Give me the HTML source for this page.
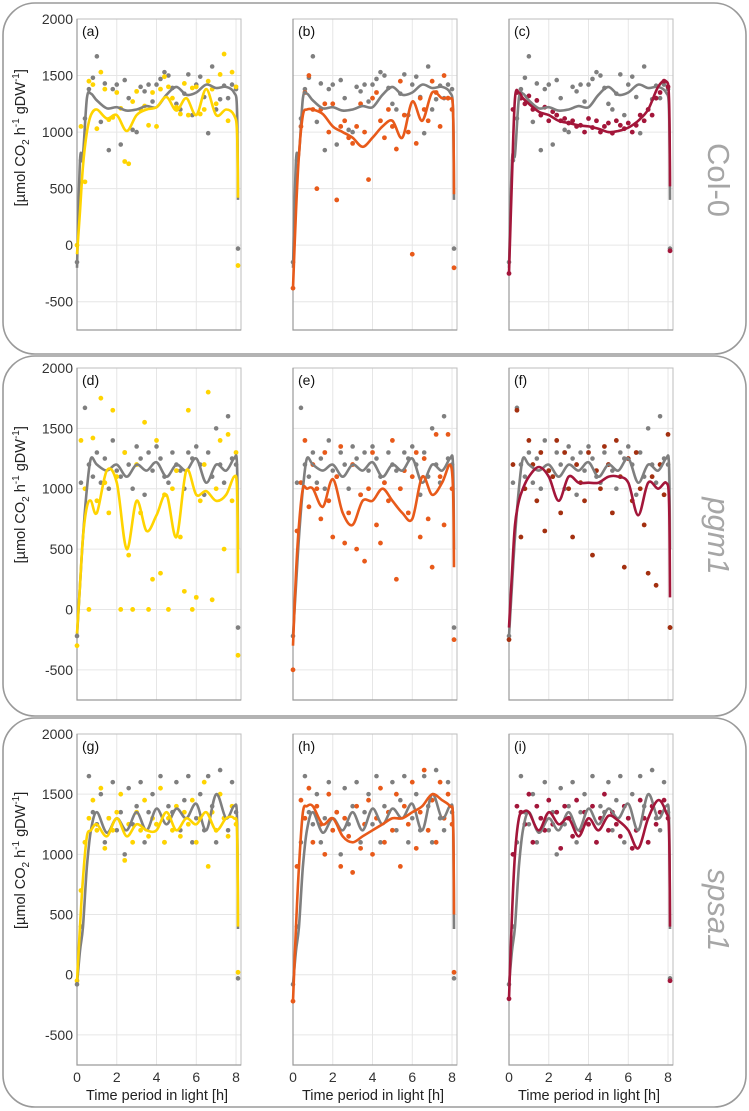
<!DOCTYPE html>
<html><head><meta charset="utf-8">
<style>
html,body{margin:0;padding:0;background:#fff;}
svg{display:block;font-family:"Liberation Sans",Arial,sans-serif;}
</style></head>
<body>
<svg id="fig" width="749" height="1111" viewBox="0 0 749 1111" xmlns="http://www.w3.org/2000/svg">
<rect x="3" y="3" width="743" height="351" rx="32" fill="none" stroke="#9a9a9a" stroke-width="1.6"/>
<rect x="3" y="356" width="743" height="360" rx="32" fill="none" stroke="#9a9a9a" stroke-width="1.6"/>
<rect x="3" y="718" width="743" height="389" rx="32" fill="none" stroke="#9a9a9a" stroke-width="1.6"/>
<text x="0" y="0" transform="translate(708,180) rotate(90)" text-anchor="middle" font-size="31" fill="#a6a6a6">Col-0</text>
<text x="0" y="0" transform="translate(708,536) rotate(90)" text-anchor="middle" font-size="31" font-style="italic" fill="#a6a6a6">pgm1</text>
<text x="0" y="0" transform="translate(708,910) rotate(90)" text-anchor="middle" font-size="31" font-style="italic" fill="#a6a6a6">spsa1</text>
<g id="plots"></g>
</svg>
<script>
// shared time grid for scatter points (h)
const ptTimes = [0,0.2,0.4,0.6,0.8,1.0,1.2,1.4,1.6,1.8,2.0,2.2,2.4,2.6,2.8,3.0,3.2,3.4,3.6,3.8,4.0,4.2,4.4,4.6,4.8,5.0,5.2,5.4,5.6,5.8,6.0,6.2,6.4,6.6,6.8,7.0,7.2,7.4,7.6,7.8,8.0,8.1];
const lineTimes = [0,0.15,0.3,0.5,0.7,1,1.5,2,2.5,3,3.5,4,4.5,5,5.5,6,6.5,7,7.5,7.9,8.05,8.1];

// row 1 (Col-0)
const grayPts1 = [-150,750,1120,1380,1480,1670,1090,1430,840,1380,1420,890,1460,1300,1020,1000,1400,1360,1420,1270,1420,1470,1530,1500,1390,1250,1200,1340,1510,1150,1420,1490,1310,990,1580,1200,1290,1410,1300,1420,1380,-30];
const grayLine1 = [-200,750,800,1300,1340,1280,1210,1220,1190,1200,1230,1220,1330,1400,1330,1350,1420,1390,1400,1350,1200,400];
const ptsA = [0,1050,560,1450,1420,1030,1530,1380,1110,1130,1350,1210,740,720,1270,1360,1200,1230,1060,1350,1050,1380,1490,1400,1300,1220,1160,1430,1150,1390,1400,1160,1200,1450,1380,1250,1510,1690,1100,1530,1400,-180];
const lineA = [-80,300,700,1000,1150,1200,1120,1150,1010,1150,1200,1220,1310,1190,1300,1150,1380,1150,1200,1150,1000,420];
const ptsB = [-380,700,1050,1350,1500,1200,500,1200,1250,1000,1250,400,1050,1100,950,900,1050,1250,1000,580,1300,1350,1100,950,1200,1050,850,1450,1150,1000,-80,900,1300,1200,1100,1450,1350,1050,1500,1300,1200,-200];
const lineB = [-380,300,800,1150,1200,1200,1160,1050,1000,950,870,950,1050,1100,950,1270,1100,1350,1300,1300,1200,450];
const ptsC = [-250,1200,1350,1300,1250,1320,1200,1280,1150,1220,1100,1180,1150,1100,1120,1080,1100,1050,1060,1000,1120,1040,1100,1000,1050,1080,990,1100,1060,1030,1080,1000,1060,1150,1100,1200,1150,1300,1350,1450,1400,-50];
const lineC = [-250,600,1300,1350,1300,1250,1180,1150,1100,1080,1060,1050,1030,1000,1010,1040,1100,1200,1400,1450,1300,520];

// row 2 (pgm1)
const grayPts2 = [-220,1050,1670,1200,1100,1300,1050,1250,1000,1400,1150,1100,1300,1200,1000,1350,1250,950,1300,1150,1350,1250,1100,1050,1300,1200,1150,1000,1300,1250,1350,1200,950,1300,1100,1500,1200,1050,1600,1250,1200,-150];
const grayLine2 = [-220,200,600,1000,1250,1200,1150,1200,1100,1200,1150,1220,1100,1200,1150,1250,1050,1200,1150,1250,1200,500];
const ptsD = [-300,1400,1000,0,1420,900,1750,1050,800,1650,1100,0,1300,450,0,1200,800,1550,0,250,1400,300,950,0,1000,1150,600,150,1650,0,100,900,1200,1800,80,1000,1400,500,1450,900,1300,-380];
const lineD = [-200,200,600,850,900,800,1150,1050,500,900,650,780,950,600,1150,950,980,900,950,1100,1000,300];
const ptsE = [-500,650,1050,1400,850,1200,1000,750,1300,900,600,1100,1350,550,800,1200,500,950,400,1000,1300,700,550,1050,900,1400,250,1000,1150,800,1100,1300,600,1250,750,350,1450,1100,700,1450,1000,-250];
const lineE = [-300,300,700,1000,1000,1000,850,1080,800,700,900,900,1000,900,800,750,1100,950,1050,1200,1000,350];
const ptsF = [-250,1200,1650,600,1000,1400,1200,900,1300,650,1150,1100,1400,800,1300,1000,600,1200,1050,900,1300,450,1150,1000,1350,1200,800,1400,1100,350,1250,900,1300,1000,700,300,1100,200,1200,950,1450,-150];
const lineF = [-150,300,700,900,1000,1100,1180,1100,900,1100,1050,1050,1050,1100,1100,1050,780,1050,1000,1050,900,100];

// row 3 (spsa1)
const grayPts3 = [-80,400,1100,1650,1350,1250,1500,1100,1300,1600,1200,1350,1000,1550,1250,1400,1600,1100,1350,1500,1250,1650,1100,1400,1350,1600,1200,1450,1650,1100,1300,1500,1200,1650,1400,1100,1700,1300,1200,1600,1350,-30];
const grayLine3 = [-80,200,400,900,1200,1350,1180,1300,1200,1350,1200,1380,1250,1380,1300,1420,1200,1500,1300,1400,1300,380];
const ptsG = [-50,700,1100,1300,1450,1200,1550,1050,1300,1200,1350,1500,950,1250,1100,1350,1200,1450,1150,1300,1250,1550,1100,1300,1200,1400,1150,1350,1250,1450,1100,1300,1600,900,1350,1200,1500,1300,1150,1400,1250,20];
const lineG = [-60,400,800,1150,1200,1250,1150,1300,1150,1250,1200,1200,1350,1200,1300,1250,1350,1200,1300,1300,1200,400];
const ptsH = [-220,900,1450,1300,1550,1100,1400,1250,1000,1500,1200,1350,900,1300,1150,850,1400,1050,1250,1450,1000,1300,1550,1100,1350,1200,1500,900,1400,1250,1600,1050,1350,1700,1200,1450,1100,1600,1300,1500,1250,20];
const lineH = [-220,400,900,1350,1400,1400,1250,1300,1150,1100,1150,1200,1250,1300,1300,1350,1400,1500,1450,1400,1300,500];
const ptsI = [-200,1000,1400,1350,1250,1500,1100,1400,1300,1200,1450,1250,1350,1050,1400,1300,1150,1450,1200,1350,1250,1400,1100,1300,1500,1200,1350,1250,1150,1400,1300,1050,1200,1450,1300,1100,1400,1250,1350,1450,1300,-50];
const lineI = [-200,500,1000,1300,1350,1350,1200,1350,1250,1300,1150,1300,1200,1320,1280,1200,1050,1300,1450,1350,1200,400];

const yTicks = [2000,1500,1000,500,0,-500];
const xTicks = [0,2,4,6,8];
const panelLabels = ["(a)","(b)","(c)","(d)","(e)","(f)","(g)","(h)","(i)"];

const NS = "http://www.w3.org/2000/svg";
const root = document.getElementById("plots");
function mk(tag, attrs, parent){ const e=document.createElementNS(NS,tag); for(const k in attrs) e.setAttribute(k,attrs[k]); (parent||root).appendChild(e); return e; }

const rows = [
  {top:19, bottom:330, gp:grayPts1, gl:grayLine1},
  {top:368, bottom:700, gp:grayPts2, gl:grayLine2},
  {top:734, bottom:1065, gp:grayPts3, gl:grayLine3}
];
const colX = [77,293,509];
const panelW = 164, xMax = 8.25;
const series = [[ptsA,lineA,"#ffd400"],[ptsB,lineB,"#e85a1a"],[ptsC,lineC,"#a3163a"],
                [ptsD,lineD,"#ffd400"],[ptsE,lineE,"#e85a1a"],[ptsF,lineF,"#a33010"],
                [ptsG,lineG,"#ffd400"],[ptsH,lineH,"#e85a1a"],[ptsI,lineI,"#a3163a"]];
const lineColF = "#a3163a";

function smoothPath(xs, ys){
  let d="M"+xs[0]+","+ys[0];
  for(let i=0;i<xs.length-1;i++){
    const x0=xs[Math.max(i-1,0)],y0=ys[Math.max(i-1,0)],x1=xs[i],y1=ys[i],x2=xs[i+1],y2=ys[i+1],x3=xs[Math.min(i+2,xs.length-1)],y3=ys[Math.min(i+2,ys.length-1)];
    const c1x=x1+(x2-x0)/6,c1y=y1+(y2-y0)/6,c2x=x2-(x3-x1)/6,c2y=y2-(y3-y1)/6;
    d+=" C"+c1x.toFixed(1)+","+c1y.toFixed(1)+" "+c2x.toFixed(1)+","+c2y.toFixed(1)+" "+x2.toFixed(1)+","+y2.toFixed(1);
  }
  return d;
}

for(let r=0;r<3;r++){
  const R=rows[r];
  const ys = v => R.bottom - (v+750)/2750*(R.bottom-R.top);
  for(let c=0;c<3;c++){
    const idx=r*3+c, x0=colX[c];
    const xs = t => x0 + t/xMax*panelW;
    const g = mk("g",{});
    
    
    // grid
    yTicks.forEach(v=>{ const l=mk("line",{x1:x0,x2:x0+panelW,y1:ys(v),y2:ys(v),stroke:"#e6e6e6","stroke-width":1},g);
        });
    xTicks.forEach(t=>{ const l=mk("line",{x1:xs(t),x2:xs(t),y1:R.top,y2:R.bottom,stroke:"#e6e6e6","stroke-width":1},g);
        });
    const fr=mk("rect",{x:x0,y:R.top,width:panelW,height:R.bottom-R.top,fill:"none",stroke:"#bdbdbd","stroke-width":1},g);
     
    const ax=mk("path",{d:"M"+x0+","+R.top+" V"+R.bottom+" H"+(x0+panelW),fill:"none",stroke:"#9a9a9a","stroke-width":1.2},g);
     
    // gray points
    R.gp.forEach((v,i)=>{ const p=mk("circle",{cx:xs(ptTimes[i]),cy:ys(v),r:2.3,fill:"#7f7f7f"},g);
        });
    const [pts,ln,col]=series[idx];
    pts.forEach((v,i)=>{ const p=mk("circle",{cx:xs(ptTimes[i]),cy:ys(v),r:2.4,fill:col},g);
        });
    const gl=mk("path",{d:smoothPath(lineTimes.map(xs),R.gl.map(ys)),fill:"none",stroke:"#7f7f7f","stroke-width":2.6,"stroke-linejoin":"round"},g);
     
    const cl=mk("path",{d:smoothPath(lineTimes.map(xs),ln.map(ys)),fill:"none",stroke:(idx===5?lineColF:col),"stroke-width":2.6,"stroke-linejoin":"round"},g);
     
    const pl=mk("text",{x:x0+5,y:R.top+17,"font-size":14,fill:"#111"},g); pl.textContent=panelLabels[idx];
     
    if(c===0){
      yTicks.forEach(v=>{ const t=mk("text",{x:x0-4,y:ys(v)+5,"text-anchor":"end","font-size":14,fill:"#333"},g); t.textContent=v;
          });
      const yl=mk("text",{transform:"translate(25,"+ys(950)+") rotate(-90)","text-anchor":"middle","font-size":14.5,fill:"#222"},g);
      yl.innerHTML='[µmol CO<tspan font-size="10" dy="4">2</tspan><tspan dy="-4"> h</tspan><tspan font-size="10" dy="-6">-1</tspan><tspan dy="6"> gDW</tspan><tspan font-size="10" dy="-6">-1</tspan><tspan dy="6">]</tspan>';
       
    }
    if(r===2){
      xTicks.forEach(t=>{ const tx=mk("text",{x:xs(t),y:R.bottom+17,"text-anchor":"middle","font-size":14,fill:"#333"},g); tx.textContent=t;
          });
      const xl=mk("text",{x:x0+panelW/2-2,y:R.bottom+35,"text-anchor":"middle","font-size":14.5,fill:"#222"},g); xl.textContent="Time period in light [h]";
       
    }
  }
}
</script>
</body></html>
